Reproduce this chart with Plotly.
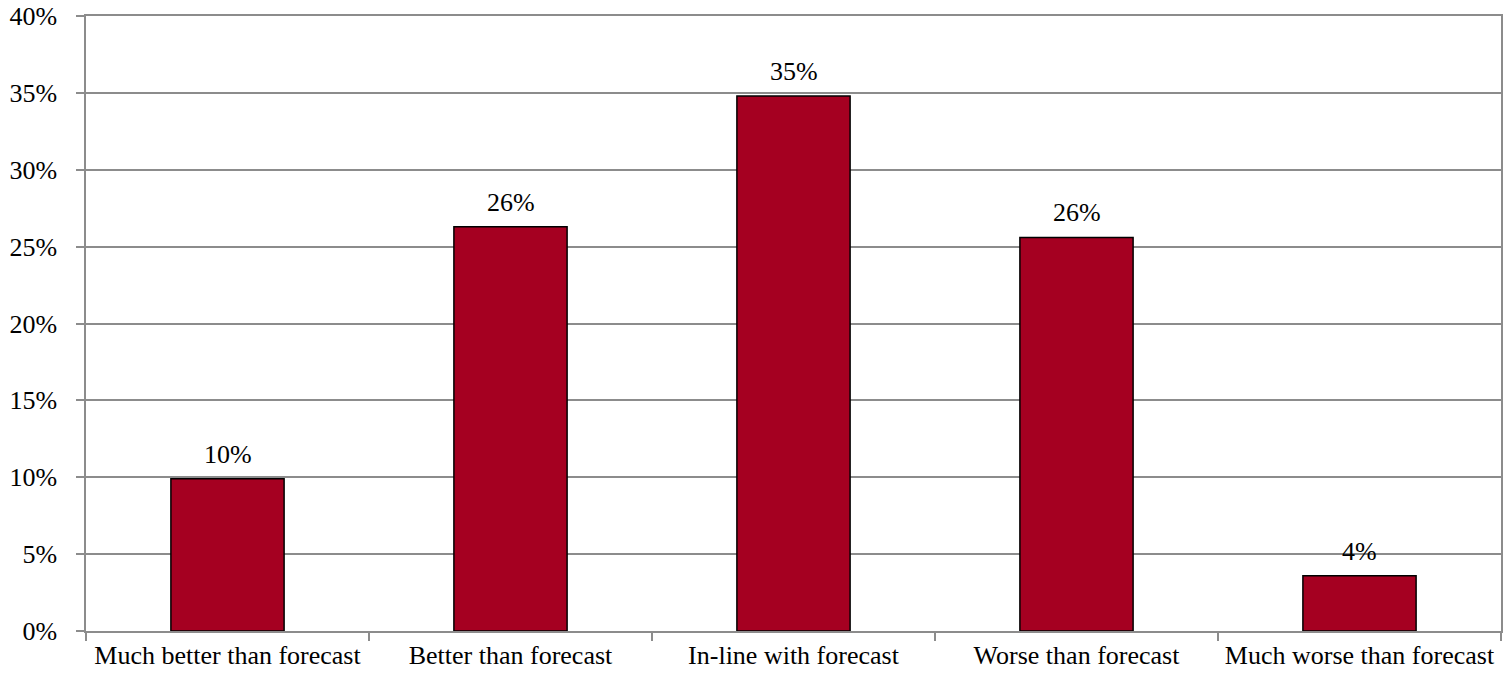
import plotly.graph_objects as go

categories = [
    "Much better than forecast",
    "Better than forecast",
    "In-line with forecast",
    "Worse than forecast",
    "Much worse than forecast",
]
shares_pct = [9.9, 26.3, 34.8, 25.6, 3.6]
y_ticks = [0, 5, 10, 15, 20, 25, 30, 35, 40]

BAR_COLOR = "#A50021"
GRID_COLOR = "#8C8C8C"
FONT = dict(family="Liberation Serif, Times New Roman, serif", size=26, color="#000000")

fig = go.Figure(
    go.Bar(
        x=categories,
        y=shares_pct,
        width=0.4,
        marker=dict(color=BAR_COLOR, line=dict(color="#000000", width=1.5)),
        hoverinfo="x+y",
    )
)

# value labels sitting above each bar
for cat, val in zip(categories, shares_pct):
    fig.add_annotation(
        x=cat,
        y=val,
        text=f"{val:.0f}%",
        showarrow=False,
        yanchor="bottom",
        yshift=8,
        font=FONT,
    )

fig.update_layout(
    width=1511,
    height=676,
    margin=dict(l=86, r=10, t=16, b=45),
    paper_bgcolor="#FFFFFF",
    plot_bgcolor="#FFFFFF",
    font=FONT,
    showlegend=False,
)

fig.update_xaxes(
    type="category",
    automargin=False,
    showline=True,
    linecolor=GRID_COLOR,
    linewidth=1.5,
    mirror=True,
    ticks="outside",
    tickson="boundaries",
    ticklen=8,
    tickcolor=GRID_COLOR,
    tickwidth=1.5,
    showgrid=False,
    tickfont=FONT,
)

fig.update_yaxes(
    range=[0, 40],
    automargin=False,
    tickvals=y_ticks,
    ticktext=[f"{v}%" for v in y_ticks],
    showline=True,
    linecolor=GRID_COLOR,
    linewidth=1.5,
    mirror=True,
    ticks="outside",
    ticklen=8,
    tickcolor=GRID_COLOR,
    tickwidth=1.5,
    ticklabelstandoff=14,
    showgrid=True,
    gridcolor=GRID_COLOR,
    gridwidth=1.5,
    zeroline=False,
    tickfont=FONT,
)

fig.write_html("out.html")
